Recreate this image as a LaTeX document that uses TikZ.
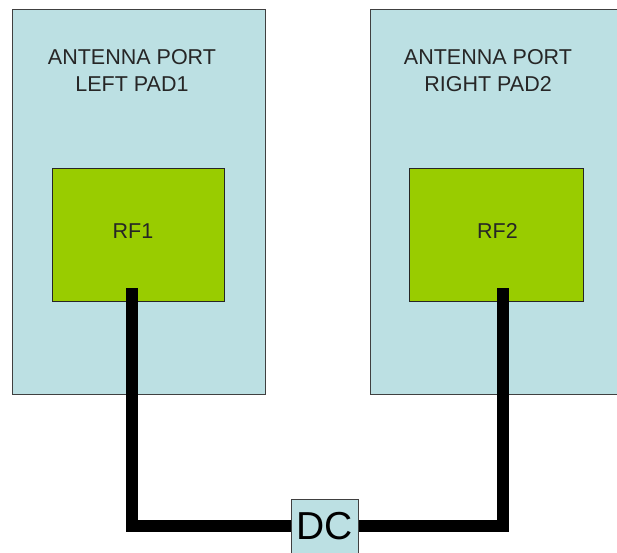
\documentclass[tikz,border=0pt]{standalone}
\usepackage{fontspec}
\setmainfont{Liberation Sans}
\pgfdeclarelayer{background}
\pgfsetlayers{background,main}
\begin{document}
\begin{tikzpicture}[x=1pt,y=-1pt,
  padbox/.style={draw=black!75,line width=1pt,fill=padblue,inner sep=0pt},
  rfbox/.style={draw=black!85,line width=1pt,fill=rfgreen,inner sep=0pt},
  title/.style={font=\fontsize{21.5}{27}\selectfont,align=center,text=black!85,inner sep=0pt},
  rflabel/.style={font=\fontsize{21.5}{27}\selectfont,text=black!85,inner sep=0pt},
  wire/.style={line width=12pt,black,line join=miter}]
\definecolor{padblue}{RGB}{188,224,227}
\definecolor{rfgreen}{RGB}{153,204,0}
\useasboundingbox (0,0) rectangle (617,552);
% outer pads
\node[padbox,minimum width=253pt,minimum height=385pt] (padL) at (138.5,201.5) {};
\node[padbox,minimum width=260pt,minimum height=385pt] (padR) at (500,201.5) {};
\node[title] (tL) at (132,70.5) {ANTENNA PORT\\LEFT PAD1};
\node[title] (tR) at (488,70.5) {ANTENNA PORT\\RIGHT PAD2};
% RF boxes
\node[rfbox,minimum width=172pt,minimum height=133pt] (rf1) at (138,234.5) {};
\node[rfbox,minimum width=174pt,minimum height=133pt] (rf2) at (496,234.5) {};
\node[rflabel] (l1) at (133,231) {RF1};
\node[rflabel] (l2) at (497.5,231) {RF2};
% wire ends
\coordinate (w1) at (132,288);
\coordinate (w2) at (503,288);
% DC box
\node[padbox,minimum width=67pt,minimum height=54pt,font=\fontsize{39}{39}\selectfont,text=black] (dc) at (324.5,526) {DC};
\draw[wire] (w1) |- (dc.west);
\draw[wire] (w2) |- (dc.east);
\end{tikzpicture}
\end{document}
